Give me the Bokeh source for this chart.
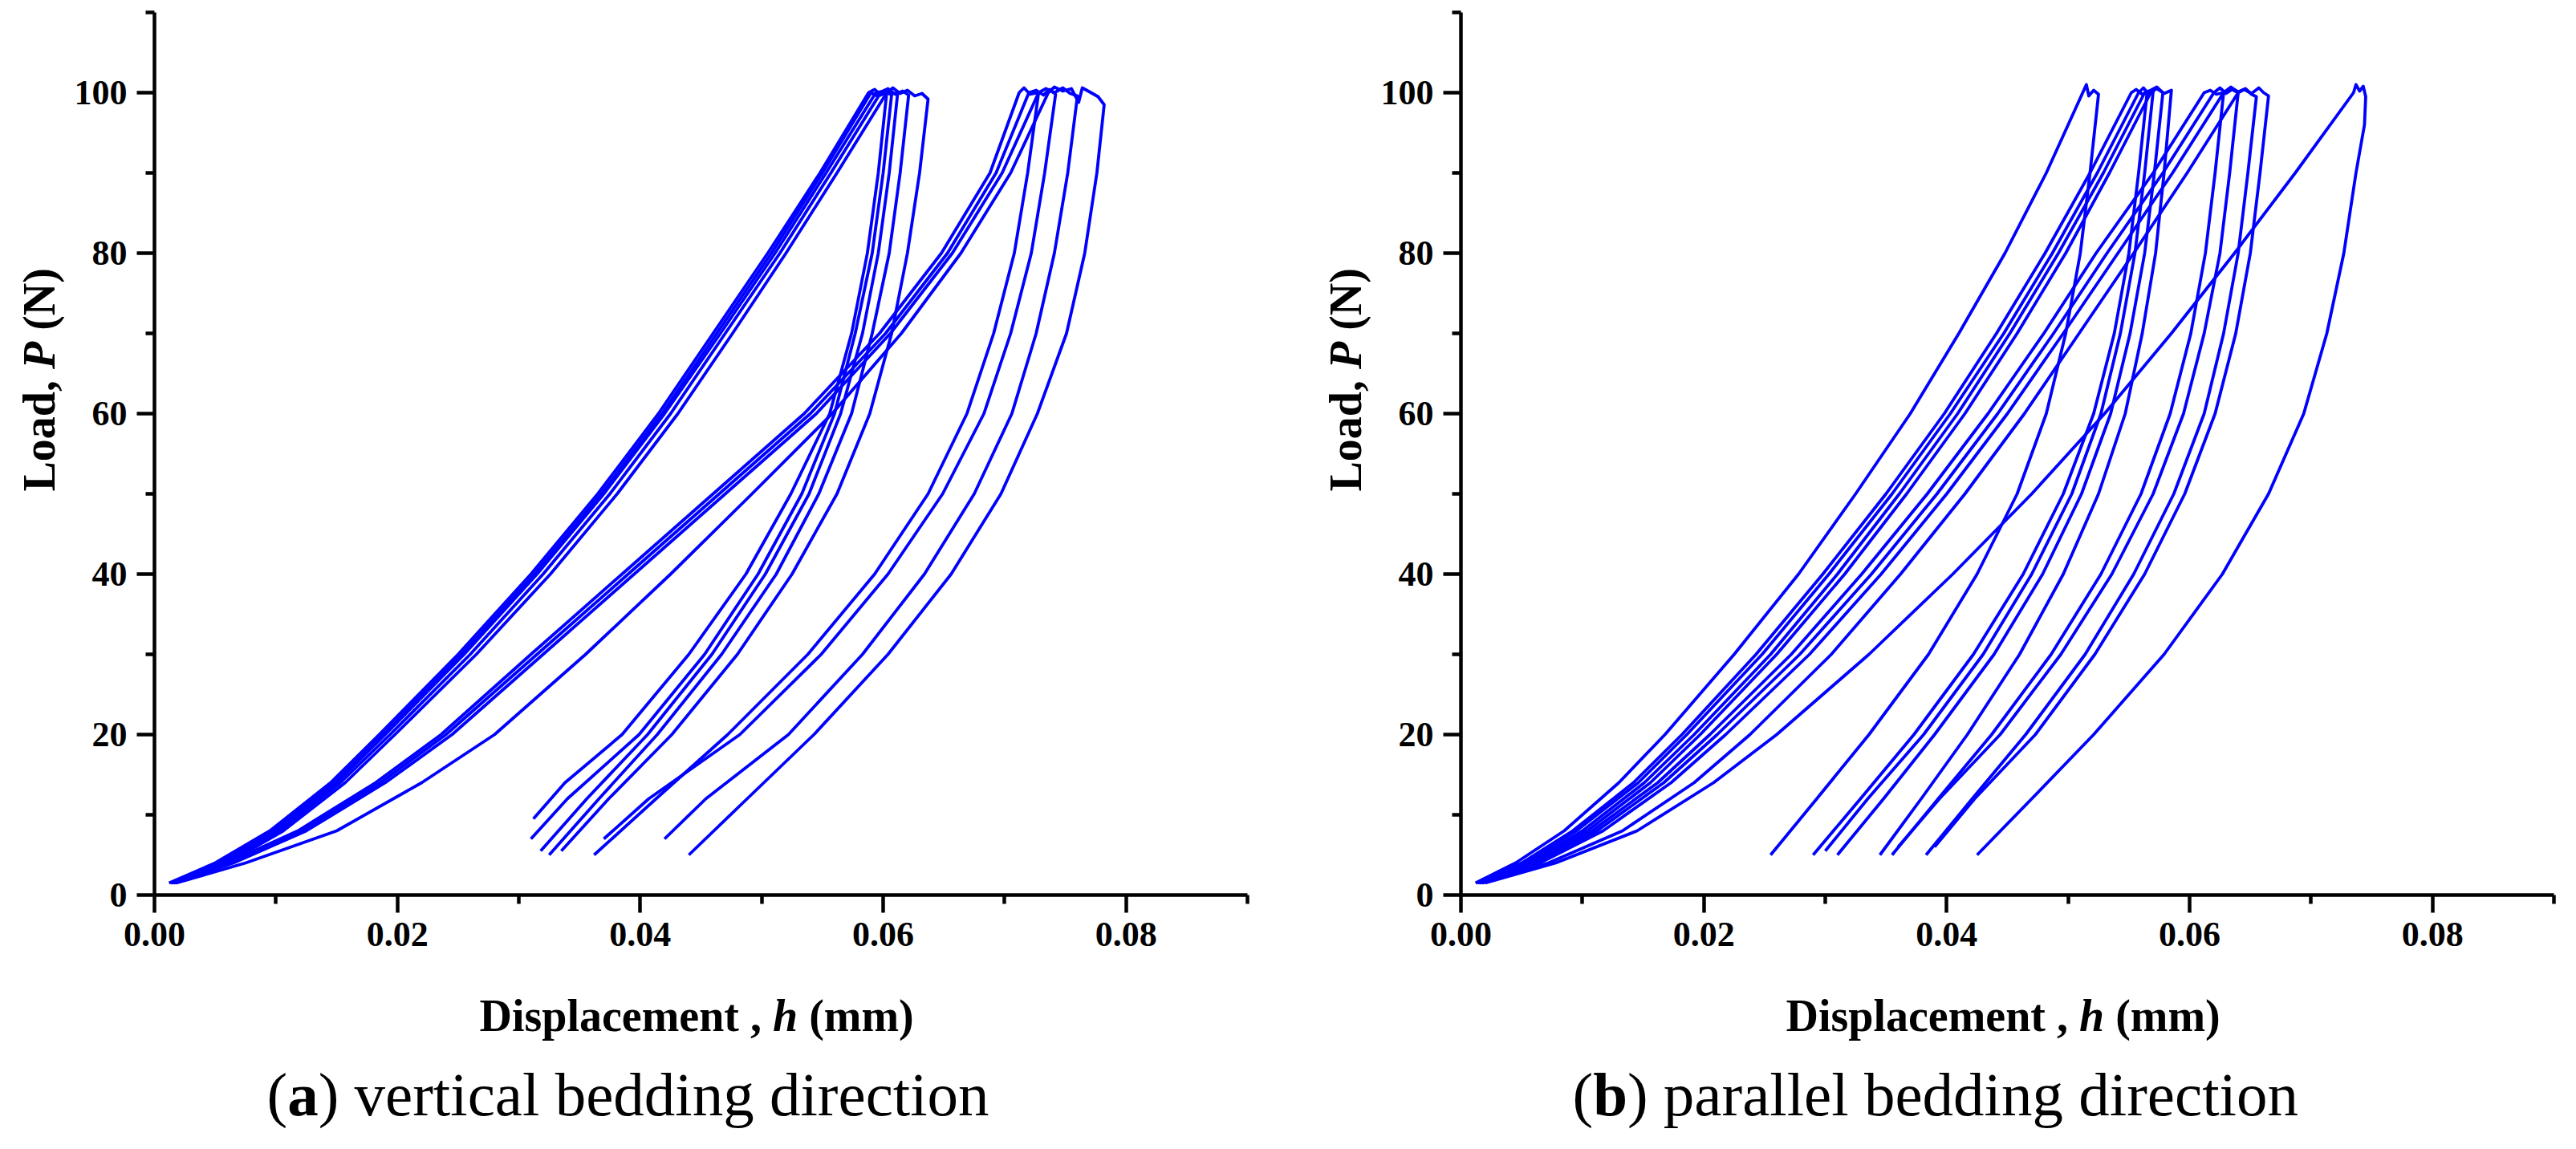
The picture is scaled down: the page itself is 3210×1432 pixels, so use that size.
from bokeh.plotting import figure
from bokeh.models import Range1d, FixedTicker, Label
from bokeh.layouts import row, column
from bokeh.embed import file_html
from bokeh.resources import INLINE

# ---------------- data ----------------
X_TICKS = [0.0, 0.02, 0.04, 0.06, 0.08]
X_TICK_LABELS = ["0.00", "0.02", "0.04", "0.06", "0.08"]
X_MINOR = [0.01, 0.03, 0.05, 0.07, 0.09]
Y_TICKS = [0, 20, 40, 60, 80, 100]
Y_TICK_LABELS = ["0", "20", "40", "60", "80", "100"]
Y_MINOR = [10, 30, 50, 70, 90, 110]

LOAD_P = [1.5, 4, 8, 14, 20, 30, 40, 50, 60, 70, 80, 90, 100]

# panel (a): vertical bedding direction
a1_load_x = [0.0012, 0.0050, 0.0095, 0.0145, 0.0185, 0.0250, 0.0310, 0.0365, 0.0415, 0.0460, 0.0505, 0.0548, 0.0588]
a1_hold_x = [0.0593, 0.0598]
a1_hold_p = [100.4, 99.7]
a1_unload_x = [0.0603, 0.0596, 0.0587, 0.0574, 0.0556, 0.0524, 0.0487, 0.0440, 0.0385, 0.0338, 0.0312]
a1_unload_p = [100.1, 90, 80, 70, 60, 50, 40, 30, 20, 14, 9.5]

a2_load_x = [0.0014, 0.0053, 0.0098, 0.0148, 0.0188, 0.0253, 0.0313, 0.0368, 0.0418, 0.0463, 0.0508, 0.0550, 0.0590]
a2_hold_x = [0.0595, 0.0601]
a2_hold_p = [99.6, 100.3]
a2_unload_x = [0.0607, 0.0600, 0.0591, 0.0577, 0.0560, 0.0533, 0.0497, 0.0453, 0.0399, 0.0340, 0.0310]
a2_unload_p = [99.8, 90, 80, 70, 60, 50, 40, 30, 20, 12, 7]

a3_load_x = [0.0015, 0.0055, 0.0100, 0.0150, 0.0190, 0.0255, 0.0315, 0.0370, 0.0420, 0.0466, 0.0511, 0.0553, 0.0594]
a3_hold_x = [0.0600, 0.0606]
a3_hold_p = [100.2, 99.8]
a3_unload_x = [0.0612, 0.0605, 0.0596, 0.0583, 0.0565, 0.0539, 0.0503, 0.0459, 0.0406, 0.0356, 0.0318]
a3_unload_p = [100, 90, 80, 70, 60, 50, 40, 30, 20, 12, 5.5]

a4_load_x = [0.0016, 0.0057, 0.0103, 0.0153, 0.0194, 0.0260, 0.0320, 0.0375, 0.0425, 0.0470, 0.0515, 0.0557, 0.0598]
a4_hold_x = [0.0604, 0.0610, 0.0616]
a4_hold_p = [100.5, 99.8, 100.2]
a4_unload_x = [0.0621, 0.0614, 0.0605, 0.0591, 0.0574, 0.0547, 0.0512, 0.0467, 0.0414, 0.0366, 0.0325]
a4_unload_p = [99.7, 90, 80, 70, 60, 50, 40, 30, 20, 12, 5]

a5_load_x = [0.0017, 0.0060, 0.0106, 0.0157, 0.0198, 0.0265, 0.0326, 0.0381, 0.0431, 0.0476, 0.0520, 0.0562, 0.0603]
a5_hold_x = [0.0608, 0.0614, 0.0620, 0.0626, 0.0632]
a5_hold_p = [100.6, 99.9, 100.3, 99.6, 99.9]
a5_unload_x = [0.0637, 0.0630, 0.0620, 0.0607, 0.0589, 0.0562, 0.0525, 0.0480, 0.0426, 0.0374, 0.0335]
a5_unload_p = [99.2, 90, 80, 70, 60, 50, 40, 30, 20, 12, 5.5]

a6_load_x = [0.0013, 0.0060, 0.0118, 0.0182, 0.0236, 0.0310, 0.0385, 0.0460, 0.0535, 0.0597, 0.0648, 0.0688, 0.0712]
a6_hold_x = [0.0716, 0.0721]
a6_hold_p = [100.6, 99.8]
a6_unload_x = [0.0728, 0.0719, 0.0708, 0.0691, 0.0669, 0.0637, 0.0593, 0.0538, 0.0472, 0.0413, 0.0362]
a6_unload_p = [100, 90, 80, 70, 60, 50, 40, 30, 20, 12, 5]

a7_load_x = [0.0014, 0.0062, 0.0121, 0.0186, 0.0240, 0.0315, 0.0390, 0.0465, 0.0540, 0.0602, 0.0653, 0.0693, 0.0720]
a7_hold_x = [0.0726, 0.0732, 0.0737]
a7_hold_p = [100.3, 99.7, 100.4]
a7_unload_x = [0.0742, 0.0733, 0.0722, 0.0705, 0.0683, 0.0649, 0.0604, 0.0549, 0.0482, 0.0407, 0.0370]
a7_unload_p = [99.8, 90, 80, 70, 60, 50, 40, 30, 20, 12, 7]

a8_load_x = [0.0016, 0.0065, 0.0125, 0.0190, 0.0245, 0.0320, 0.0395, 0.0470, 0.0545, 0.0606, 0.0657, 0.0698, 0.0728]
a8_hold_x = [0.0734, 0.0741, 0.0748, 0.0754]
a8_hold_p = [100.5, 100.0, 100.6, 99.9]
a8_unload_x = [0.0760, 0.0752, 0.0741, 0.0726, 0.0706, 0.0675, 0.0634, 0.0583, 0.0522, 0.0454, 0.0420]
a8_unload_p = [99.6, 90, 80, 70, 60, 50, 40, 30, 20, 12, 7]

a9_load_x = [0.0018, 0.0075, 0.0150, 0.0220, 0.0280, 0.0355, 0.0425, 0.0492, 0.0558, 0.0615, 0.0664, 0.0705, 0.0736]
a9_hold_x = [0.0741, 0.0748, 0.0755, 0.0761, 0.0764, 0.0770, 0.0777]
a9_hold_p = [100.7, 100.2, 100.5, 98.8, 100.6, 100.1, 99.5]
a9_unload_x = [0.0782, 0.0776, 0.0766, 0.0751, 0.0727, 0.0697, 0.0656, 0.0604, 0.0543, 0.0488, 0.0440]
a9_unload_p = [98.5, 90, 80, 70, 60, 50, 40, 30, 20, 12, 5]

# panel (b): parallel bedding direction
b1_load_x = [0.0012, 0.0045, 0.0085, 0.0130, 0.0168, 0.0225, 0.0278, 0.0325, 0.0370, 0.0410, 0.0448, 0.0482, 0.0512]
b1_hold_x = [0.0515, 0.0517, 0.0521]
b1_hold_p = [101.0, 99.6, 100.3]
b1_unload_x = [0.0525, 0.0518, 0.0510, 0.0498, 0.0482, 0.0458, 0.0425, 0.0385, 0.0336, 0.0293, 0.0255]
b1_unload_p = [99.8, 90, 80, 70, 60, 50, 40, 30, 20, 12, 5]

b2_load_x = [0.0013, 0.0050, 0.0092, 0.0142, 0.0182, 0.0243, 0.0298, 0.0350, 0.0398, 0.0441, 0.0481, 0.0518, 0.0552]
b2_hold_x = [0.0556, 0.0561]
b2_hold_p = [100.4, 99.8]
b2_unload_x = [0.0565, 0.0558, 0.0550, 0.0538, 0.0521, 0.0496, 0.0463, 0.0422, 0.0373, 0.0329, 0.0290]
b2_unload_p = [100, 90, 80, 70, 60, 50, 40, 30, 20, 12, 5]

b3_load_x = [0.0014, 0.0052, 0.0095, 0.0146, 0.0186, 0.0248, 0.0303, 0.0355, 0.0403, 0.0447, 0.0487, 0.0524, 0.0558]
b3_hold_x = [0.0562, 0.0566]
b3_hold_p = [100.6, 99.9]
b3_unload_x = [0.0570, 0.0563, 0.0555, 0.0543, 0.0527, 0.0503, 0.0470, 0.0430, 0.0381, 0.0335, 0.0300]
b3_unload_p = [100.2, 90, 80, 70, 60, 50, 40, 30, 20, 12, 5.5]

b4_load_x = [0.0015, 0.0055, 0.0100, 0.0151, 0.0192, 0.0255, 0.0310, 0.0361, 0.0409, 0.0452, 0.0492, 0.0529, 0.0563]
b4_hold_x = [0.0568, 0.0573]
b4_hold_p = [100.3, 100.7]
b4_unload_x = [0.0578, 0.0571, 0.0563, 0.0551, 0.0535, 0.0511, 0.0479, 0.0439, 0.0390, 0.0348, 0.0310]
b4_unload_p = [100, 90, 80, 70, 60, 50, 40, 30, 20, 12, 5]

b5_load_x = [0.0016, 0.0058, 0.0104, 0.0156, 0.0197, 0.0260, 0.0316, 0.0367, 0.0415, 0.0458, 0.0498, 0.0534, 0.0568]
b5_hold_x = [0.0573, 0.0579]
b5_hold_p = [100.5, 99.9]
b5_unload_x = [0.0585, 0.0579, 0.0572, 0.0561, 0.0547, 0.0525, 0.0496, 0.0460, 0.0417, 0.0379, 0.0345]
b5_unload_p = [100.3, 90, 80, 70, 60, 50, 40, 30, 20, 12, 5]

b6_load_x = [0.0015, 0.0060, 0.0108, 0.0162, 0.0205, 0.0272, 0.0330, 0.0384, 0.0434, 0.0480, 0.0523, 0.0570, 0.0612]
b6_hold_x = [0.0617, 0.0622]
b6_hold_p = [100.3, 99.8]
b6_unload_x = [0.0628, 0.0621, 0.0613, 0.0601, 0.0584, 0.0560, 0.0527, 0.0486, 0.0437, 0.0393, 0.0355]
b6_unload_p = [100, 90, 80, 70, 60, 50, 40, 30, 20, 12, 5]

b7_load_x = [0.0016, 0.0062, 0.0112, 0.0167, 0.0211, 0.0279, 0.0338, 0.0392, 0.0442, 0.0488, 0.0532, 0.0578, 0.0620]
b7_hold_x = [0.0625, 0.0630, 0.0635]
b7_hold_p = [100.6, 99.9, 100.4]
b7_unload_x = [0.0640, 0.0633, 0.0625, 0.0612, 0.0595, 0.0570, 0.0536, 0.0494, 0.0444, 0.0394, 0.0360]
b7_unload_p = [100, 90, 80, 70, 60, 50, 40, 30, 20, 12, 6]

b8_load_x = [0.0017, 0.0065, 0.0117, 0.0173, 0.0218, 0.0287, 0.0346, 0.0400, 0.0450, 0.0496, 0.0541, 0.0586, 0.0628]
b8_hold_x = [0.0634, 0.0640, 0.0646, 0.0651]
b8_hold_p = [100.7, 100.1, 100.5, 99.8]
b8_unload_x = [0.0655, 0.0648, 0.0640, 0.0628, 0.0612, 0.0587, 0.0554, 0.0514, 0.0465, 0.0421, 0.0383]
b8_unload_p = [99.5, 90, 80, 70, 60, 50, 40, 30, 20, 12, 5]

b9_load_x = [0.0018, 0.0072, 0.0133, 0.0192, 0.0238, 0.0305, 0.0362, 0.0415, 0.0464, 0.0509, 0.0554, 0.0598, 0.0640]
b9_hold_x = [0.0645, 0.0651, 0.0657, 0.0661]
b9_hold_p = [100.4, 99.9, 100.6, 100.0]
b9_unload_x = [0.0665, 0.0658, 0.0650, 0.0638, 0.0621, 0.0596, 0.0563, 0.0522, 0.0473, 0.0423, 0.0390]
b9_unload_p = [99.6, 90, 80, 70, 60, 50, 40, 30, 20, 12, 6]

b10_load_x = [0.0020, 0.0078, 0.0145, 0.0208, 0.0260, 0.0336, 0.0405, 0.0470, 0.0530, 0.0585, 0.0637, 0.0687, 0.0735]
b10_hold_x = [0.0737, 0.0740, 0.0743]
b10_hold_p = [101.0, 100.2, 100.8]
b10_unload_x = [0.0745, 0.0744, 0.0737, 0.0727, 0.0713, 0.0694, 0.0665, 0.0627, 0.0579, 0.0521, 0.0470, 0.0425]
b10_unload_p = [99.5, 96, 90, 80, 70, 60, 50, 40, 30, 20, 12, 5]

X_TITLE = ["Displacement ,", "h", "(mm)"]
Y_TITLE = ["Load,", "P", "(N)"]
CAPTION_A = ["(", "a", ") vertical bedding direction"]
CAPTION_B = ["(", "b", ") parallel bedding direction"]

LOOPS_A = [
    (a1_load_x, a1_hold_x, a1_hold_p, a1_unload_x, a1_unload_p),
    (a2_load_x, a2_hold_x, a2_hold_p, a2_unload_x, a2_unload_p),
    (a3_load_x, a3_hold_x, a3_hold_p, a3_unload_x, a3_unload_p),
    (a4_load_x, a4_hold_x, a4_hold_p, a4_unload_x, a4_unload_p),
    (a5_load_x, a5_hold_x, a5_hold_p, a5_unload_x, a5_unload_p),
    (a6_load_x, a6_hold_x, a6_hold_p, a6_unload_x, a6_unload_p),
    (a7_load_x, a7_hold_x, a7_hold_p, a7_unload_x, a7_unload_p),
    (a8_load_x, a8_hold_x, a8_hold_p, a8_unload_x, a8_unload_p),
    (a9_load_x, a9_hold_x, a9_hold_p, a9_unload_x, a9_unload_p),
]
LOOPS_B = [
    (b1_load_x, b1_hold_x, b1_hold_p, b1_unload_x, b1_unload_p),
    (b2_load_x, b2_hold_x, b2_hold_p, b2_unload_x, b2_unload_p),
    (b3_load_x, b3_hold_x, b3_hold_p, b3_unload_x, b3_unload_p),
    (b4_load_x, b4_hold_x, b4_hold_p, b4_unload_x, b4_unload_p),
    (b5_load_x, b5_hold_x, b5_hold_p, b5_unload_x, b5_unload_p),
    (b6_load_x, b6_hold_x, b6_hold_p, b6_unload_x, b6_unload_p),
    (b7_load_x, b7_hold_x, b7_hold_p, b7_unload_x, b7_unload_p),
    (b8_load_x, b8_hold_x, b8_hold_p, b8_unload_x, b8_unload_p),
    (b9_load_x, b9_hold_x, b9_hold_p, b9_unload_x, b9_unload_p),
    (b10_load_x, b10_hold_x, b10_hold_p, b10_unload_x, b10_unload_p),
]

FONT = "Liberation Serif"
BLUE = "#0000FF"

MAIN_H = 1207      # height of the plotting figure
BOTTOM_H = 203     # height of the title/caption strip
YT_W = 80          # width of the y-title strip
TITLE_PX = 56
CAP_PX = 77


def loops_to_lines(loops):
    xs, ys = [], []
    for lx, hx, hp, ux, up in loops:
        xs.append(list(lx) + list(hx) + list(ux))
        ys.append(list(LOAD_P) + list(hp) + list(up))
    return xs, ys


def add_label(p, x, y, text, style="normal", size=TITLE_PX, angle=0):
    p.add_layout(Label(x=x, y=y, x_units="screen", y_units="screen", text=text,
                       text_font=FONT, text_font_style=style, text_font_size=f"{size}px",
                       text_color="black", text_align="left", text_baseline="alphabetic",
                       angle=angle, angle_units="deg"))


def blank_fig(width, height):
    f = figure(width=width, height=height, x_range=Range1d(0, 1), y_range=Range1d(0, 1),
               x_axis_type=None, y_axis_type=None, output_backend="svg",
               toolbar_location=None, min_border=0)
    f.min_border_left = 0
    f.min_border_right = 0
    f.min_border_top = 0
    f.min_border_bottom = 0
    f.grid.visible = False
    f.outline_line_color = None
    return f


def make_main(width, border_right, loops):
    p = figure(width=width, height=MAIN_H, x_range=Range1d(0, 0.09), y_range=Range1d(0, 110),
               output_backend="svg", toolbar_location=None,
               min_border_left=112, min_border_right=border_right,
               min_border_top=15, min_border_bottom=92)
    xs, ys = loops_to_lines(loops)
    p.multi_line(xs, ys, line_color=BLUE, line_width=3.8, line_join="round")

    p.grid.visible = False
    p.outline_line_color = None

    p.xaxis.ticker = FixedTicker(ticks=X_TICKS, minor_ticks=X_MINOR)
    p.xaxis.major_label_overrides = {t: l for t, l in zip(X_TICKS, X_TICK_LABELS)}
    p.yaxis.ticker = FixedTicker(ticks=Y_TICKS, minor_ticks=Y_MINOR)
    p.yaxis.major_label_overrides = {t: l for t, l in zip(Y_TICKS, Y_TICK_LABELS)}
    for ax in (p.xaxis[0], p.yaxis[0]):
        ax.axis_line_width = 4.5
        ax.axis_line_color = "black"
        ax.major_tick_line_width = 4.5
        ax.minor_tick_line_width = 4.5
        ax.major_tick_line_color = "black"
        ax.minor_tick_line_color = "black"
        ax.major_tick_out = 22
        ax.major_tick_in = 0
        ax.minor_tick_out = 11
        ax.minor_tick_in = 0
        ax.major_label_text_font = FONT
        ax.major_label_text_font_style = "bold"
        ax.major_label_text_font_size = "44px"
        ax.major_label_text_color = "black"
        ax.major_label_standoff = 12
    return p


def make_ytitle():
    f = blank_fig(YT_W, MAIN_H)
    sp = 0.25 * TITLE_PX
    y0 = 503
    y1 = y0 + 2.473 * TITLE_PX + sp          # after "Load, "
    y2 = y1 + 0.611 * TITLE_PX + sp          # after "P "
    add_label(f, 48, y0, Y_TITLE[0], "bold", angle=90)
    add_label(f, 48, y1, Y_TITLE[1], "bold italic", angle=90)
    add_label(f, 48, y2, Y_TITLE[2], "bold", angle=90)
    return f


def make_bottom(width, caption, bold_w, cap_x):
    f = blank_fig(width, BOTTOM_H)
    sp = 0.25 * TITLE_PX
    x0 = 597
    x1 = x0 + 6.277 * TITLE_PX + sp          # after "Displacement , "
    x2 = x1 + 0.556 * TITLE_PX + sp          # after "h "
    ty = 133 + 12
    add_label(f, x0, ty, X_TITLE[0], "bold")
    add_label(f, x1, ty, X_TITLE[1], "bold italic")
    add_label(f, x2, ty, X_TITLE[2], "bold")
    cy = 30 + 17
    add_label(f, cap_x, cy, caption[0], "normal", size=CAP_PX)
    add_label(f, cap_x + 0.333 * CAP_PX, cy, caption[1], "bold", size=CAP_PX)
    add_label(f, cap_x + 0.333 * CAP_PX + bold_w, cy, caption[2], "normal", size=CAP_PX)
    return f


left_panel = column(row(make_ytitle(), make_main(1628 - YT_W, 74, LOOPS_A)),
                    make_bottom(1628, CAPTION_A, 0.500 * CAP_PX, 332))
right_panel = column(row(make_ytitle(), make_main(1566 - YT_W, 12, LOOPS_B)),
                     make_bottom(1566, CAPTION_B, 0.556 * CAP_PX, 331))
layout = row(left_panel, right_panel)

open("out.html", "w").write(file_html(layout, INLINE))
